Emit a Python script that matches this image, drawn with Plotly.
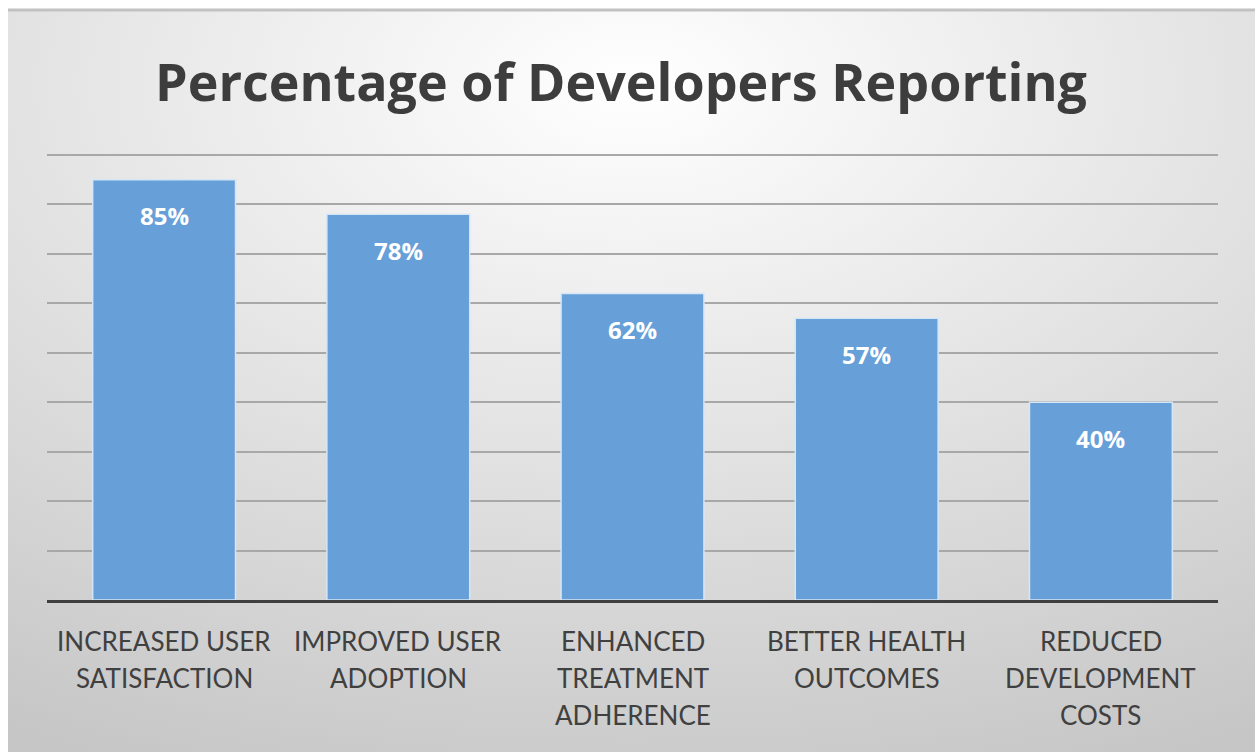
import base64
import plotly.graph_objects as go

categories = ["INCREASED USER SATISFACTION", "IMPROVED USER ADOPTION",
              "ENHANCED TREATMENT ADHERENCE", "BETTER HEALTH OUTCOMES",
              "REDUCED DEVELOPMENT COSTS"]
label_lines = [["INCREASED USER", "SATISFACTION"],
               ["IMPROVED USER", "ADOPTION"],
               ["ENHANCED", "TREATMENT", "ADHERENCE"],
               ["BETTER HEALTH", "OUTCOMES"],
               ["REDUCED", "DEVELOPMENT", "COSTS"]]
values = [85, 78, 62, 57, 40]
title_text = "Percentage of Developers Reporting"

W, H = 1255, 752
PX_PER_UNIT = 445 / 90
Y_MAX = 90.5
y_top_px = 600 - Y_MAX * PX_PER_UNIT

svg = ("<svg xmlns='http://www.w3.org/2000/svg' width='1247' height='740' "
       "viewBox='0 0 1247 740' preserveAspectRatio='none'>"
       "<defs><radialGradient id='g' cx='50%' cy='10%' r='100%' fx='50%' fy='10%'>"
       "<stop offset='0' stop-color='#ffffff'/>"
       "<stop offset='0.35' stop-color='#ebebeb'/>"
       "<stop offset='1' stop-color='#c6c6c6'/>"
       "</radialGradient></defs>"
       "<rect x='0' y='0' width='1247' height='740' fill='url(#g)'/></svg>")
bg_src = "data:image/svg+xml;base64," + base64.b64encode(svg.encode()).decode()

fig = go.Figure()
fig.add_trace(go.Bar(
    x=categories, y=values,
    marker=dict(color="#679fd8", line=dict(color="#d6e6f5", width=1.5)),
    hoverinfo="skip",
))

annotations = []
for c, v in zip(categories, values):
    annotations.append(dict(x=c, y=v, xref="x", yref="y", text=f"{v}%",
                            showarrow=False, yshift=-36, yanchor="middle",
                            font=dict(family="Open Sans", size=24, color="white", weight="bold")))
for c, lines in zip(categories, label_lines):
    for j, ln in enumerate(lines):
        annotations.append(dict(x=c, y=0, xref="x", yref="y", text=ln,
                                showarrow=False, yshift=-(41 + 37 * j), yanchor="middle",
                                font=dict(family="Lato", size=26, color="#404040")))
annotations.append(dict(x=621 / W, y=1 - 80 / H, xref="paper", yref="paper",
                        text=title_text, showarrow=False, xanchor="center", yanchor="middle",
                        font=dict(family="Open Sans", size=52, color="#3d3d3d", weight="bold")))

fig.update_layout(
    width=W, height=H,
    margin=dict(l=0, r=0, t=0, b=0),
    paper_bgcolor="white",
    plot_bgcolor="rgba(0,0,0,0)",
    showlegend=False,
    bargap=0.39,
    annotations=annotations,
    images=[dict(source=bg_src, xref="paper", yref="paper", x=8 / W, y=1 - 11 / H,
                 sizex=1 - 8 / W, sizey=1 - 11 / H, sizing="stretch",
                 xanchor="left", yanchor="top", layer="below")],
    shapes=[dict(type="line", xref="paper", yref="paper", x0=8 / W, x1=1,
                 y0=1 - 10 / H, y1=1 - 10 / H, line=dict(color="#c2c2c2", width=3))],
    xaxis=dict(domain=[47 / W, 1218 / W], showticklabels=False, ticks="",
               showline=True, linecolor="#3f3f3f", linewidth=3, showgrid=False),
    yaxis=dict(domain=[(H - 600) / H, (H - y_top_px) / H], range=[0, Y_MAX], dtick=10,
               showticklabels=False, ticks="", showgrid=True, gridcolor="#a8a8a8",
               gridwidth=2, zeroline=False, showline=False),
)

fig.write_html("out.html")
